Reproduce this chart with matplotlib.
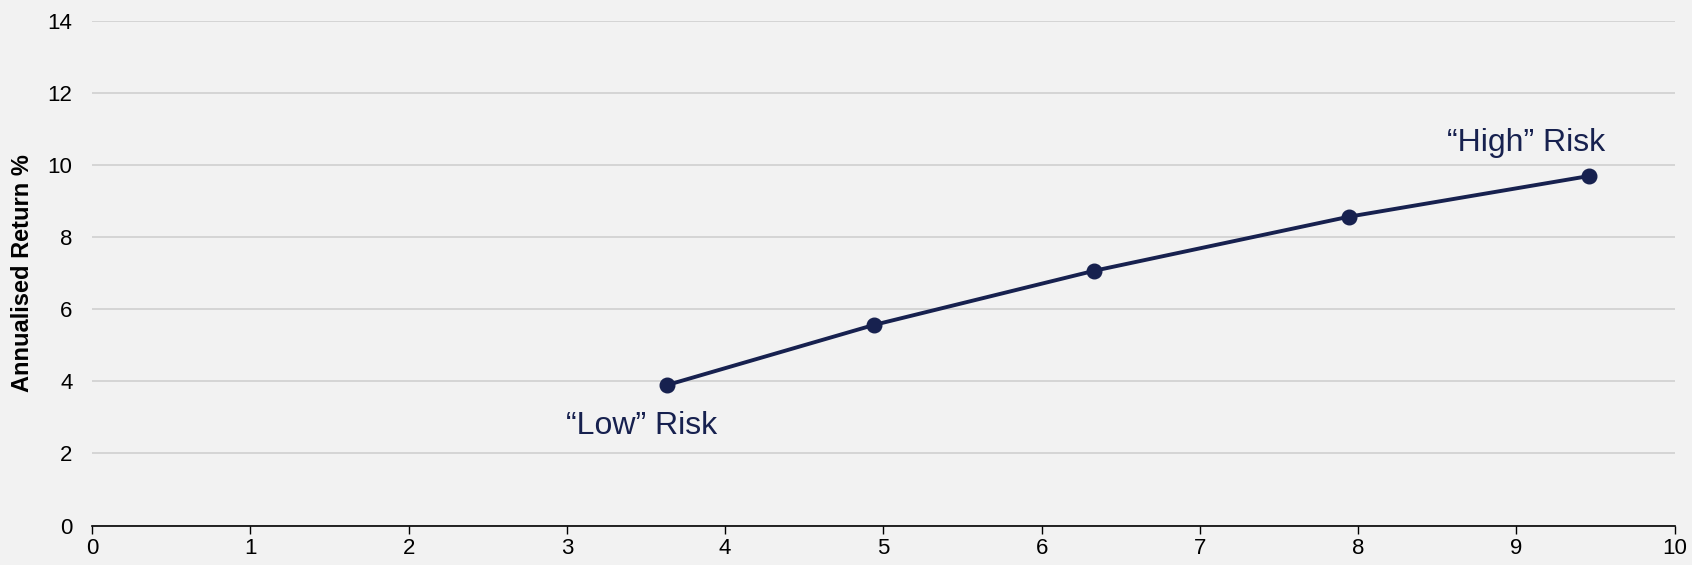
import matplotlib.pyplot as plt

plt.rcParams["font.family"] = ["Liberation Sans", "DejaVu Sans"]

# risk (x) vs annualised return (y) for each portfolio
risk = [3.63, 4.94, 6.33, 7.94, 9.46]
annual_return = [3.89, 5.56, 7.06, 8.56, 9.69]

x_ticks = list(range(0, 11))
y_ticks = list(range(0, 15, 2))

navy = "#17214f"
bg = "#f2f2f2"

fig = plt.figure(figsize=(16.92, 5.65), dpi=100, facecolor=bg)
ax = fig.add_axes([0.0544, 0.0699, 0.9354, 0.8938])
ax.set_facecolor(bg)

ax.plot(risk, annual_return, color=navy, linewidth=2.8, marker="o",
        markersize=10.5, zorder=3)

ax.text(3.47, 2.75, "\u201cLow\u201d Risk", color=navy, fontsize=23,
        ha="center", va="center")
ax.text(9.06, 10.6, "\u201cHigh\u201d Risk", color=navy, fontsize=23,
        ha="center", va="center")

ax.set_xlim(0, 10)
ax.set_ylim(0, 14)
ax.set_xticks(x_ticks)
ax.set_yticks(y_ticks)
ax.tick_params(axis="x", direction="out", length=6, width=1, colors="black",
               labelsize=16, pad=3)
ax.tick_params(axis="y", length=0, labelsize=16, pad=14)

ax.grid(axis="y", color="#d0d0d0", linewidth=1.2)
ax.set_axisbelow(True)
for side in ["top", "right", "left"]:
    ax.spines[side].set_visible(False)
ax.spines["bottom"].set_color("black")
ax.spines["bottom"].set_linewidth(1.2)

ax.set_ylabel("Annualised Return %", fontsize=17, fontweight="bold", labelpad=10)

fig.savefig("out.png", dpi=100, facecolor=bg)
